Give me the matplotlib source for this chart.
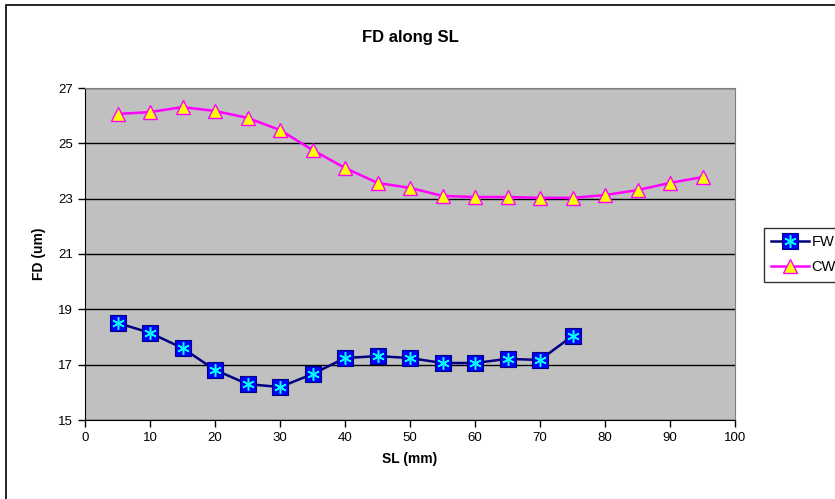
import numpy as np
import matplotlib.pyplot as plt
from matplotlib.patches import Rectangle
from matplotlib.legend_handler import HandlerTuple

plt.rcParams['font.family'] = ['Liberation Sans', 'DejaVu Sans']

# data
sl_fw = [5, 10, 15, 20, 25, 30, 35, 40, 45, 50, 55, 60, 65, 70, 75]
fd_fw = [18.51, 18.15, 17.60, 16.81, 16.30, 16.19, 16.66, 17.24, 17.31,
         17.24, 17.06, 17.06, 17.21, 17.17, 18.04]
sl_cw = [5, 10, 15, 20, 25, 30, 35, 40, 45, 50, 55, 60, 65, 70, 75, 80, 85, 90, 95]
fd_cw = [26.06, 26.13, 26.31, 26.17, 25.92, 25.48, 24.76, 24.11, 23.57, 23.39,
         23.10, 23.06, 23.06, 23.03, 23.03, 23.13, 23.31, 23.57, 23.78]
xticks = list(range(0, 101, 10))
yticks = [15, 17, 19, 21, 23, 25, 27]

fig = plt.figure(figsize=(8.35, 4.99), dpi=100)
# outer chart border (right and bottom fall outside the picture)
fig.patches.append(Rectangle((6/835, -0.1), 1.0, 1.1 - 5/499, transform=fig.transFigure,
                             fill=False, edgecolor='black', linewidth=1.2))

ax = fig.add_axes([85/835, 1 - 420/499, 650/835, 332/499])
ax.set_facecolor('#c0c0c0')

# FW series: blue squares with cyan asterisk
ax.plot(sl_fw, fd_fw, color='#000080', linewidth=1.8, zorder=3)
sq, = ax.plot(sl_fw, fd_fw, linestyle='none', marker='s', markersize=11,
              markerfacecolor='#0000ff', markeredgecolor='#000080', markeredgewidth=0.8, zorder=4)
st, = ax.plot(sl_fw, fd_fw, linestyle='none', marker=(6, 2, 0), markersize=9,
              markeredgecolor='#00ffff', markeredgewidth=1.1, zorder=5)
ln_fw, = ax.plot([], [], color='#000080', linewidth=1.8)

# CW series: yellow triangles, magenta line
ax.plot(sl_cw, fd_cw, color='#ff00ff', linewidth=1.8, zorder=3)
tr, = ax.plot(sl_cw, fd_cw, linestyle='none', marker='^', markersize=10,
              markerfacecolor='#ffff00', markeredgecolor='#ff00ff', markeredgewidth=1.0, zorder=4)
ln_cw, = ax.plot([], [], color='#ff00ff', linewidth=1.8)

ax.set_xlim(0, 100)
ax.set_ylim(15, 27)
ax.set_xticks(xticks)
ax.set_yticks(yticks)
ax.yaxis.grid(True, color='black', linewidth=1.0)
ax.set_axisbelow(True)
ax.tick_params(direction='out', length=5, width=1, labelsize=9.5, colors='black')
for s in ['top', 'right']:
    ax.spines[s].set_color('#808080')
for s in ['left', 'bottom']:
    ax.spines[s].set_color('black')

ax.set_title('FD along SL', fontsize=12, fontweight='bold', pad=33)
ax.set_xlabel('SL (mm)', fontsize=10, fontweight='bold', labelpad=6)
ax.set_ylabel('FD (um)', fontsize=10, fontweight='bold', labelpad=9)

leg = fig.legend([(ln_fw, sq, st), (ln_cw, tr)], ['FW', 'CW'],
                 handler_map={tuple: HandlerTuple(ndivide=1, pad=0)},
                 loc='upper left', bbox_to_anchor=(764/835, 1 - 228/499),
                 fontsize=10.5, frameon=True, fancybox=False, edgecolor='black',
                 handlelength=2.6, handletextpad=0.15, borderpad=0.5, labelspacing=0.75,
                 borderaxespad=0)
leg.get_frame().set_linewidth(1.0)

fig.savefig('out.png', dpi=100)
